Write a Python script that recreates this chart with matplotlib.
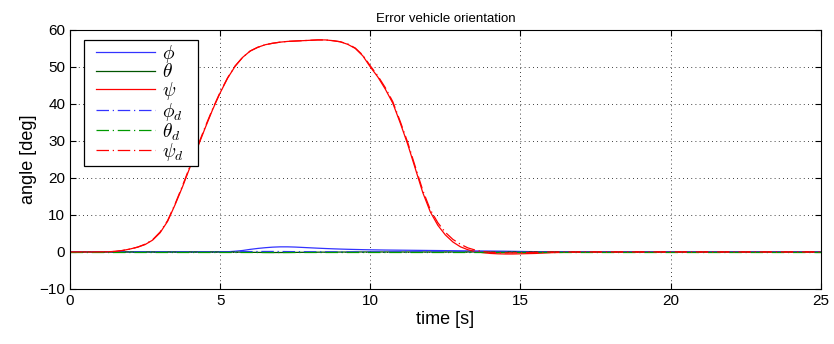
import numpy as np
import matplotlib
matplotlib.use("Agg")
import matplotlib.pyplot as plt

plt.rcParams['font.family'] = ['Liberation Sans', 'DejaVu Sans']
plt.rcParams['mathtext.fontset'] = 'cm'

# tiempo [s]: cada 0.25 s hasta 17 s, luego cada segundo
t = list(np.arange(0, 17, 0.25)) + [17, 18, 19, 20, 21, 22, 23, 24, 25]

psi = [0, 0, 0, 0,
       0.02, 0.05, 0.15, 0.4,
       0.8, 1.3, 2.0, 3.2,
       5.2, 8.3, 12.8, 17.7,
       23.0, 28.3, 33.5, 38.5,
       43.0, 47.0, 50.2, 52.6,
       54.3, 55.3, 56.0, 56.4,
       56.7, 56.9, 57.0, 57.1,
       57.2, 57.3, 57.3, 57.1,
       56.8, 56.1, 55.0, 53.0,
       50.0, 47.3, 44.0, 40.2,
       34.8, 29.0, 22.5, 16.0,
       10.8, 7.2, 4.6, 2.7,
       1.4, 0.6, 0.1, -0.2,
       -0.4, -0.5, -0.55, -0.55,
       -0.5, -0.45, -0.4, -0.3,
       -0.2, -0.15, -0.1, -0.05,
       0, 0, 0, 0, 0, 0, 0, 0, 0]

psi_d = [0, 0, 0, 0,
         0.02, 0.05, 0.15, 0.4,
         0.8, 1.3, 2.1, 3.3,
         5.4, 8.5, 13.0, 18.0,
         23.3, 28.6, 33.8, 38.7,
         43.2, 47.1, 50.3, 52.6,
         54.3, 55.3, 56.0, 56.4,
         56.7, 56.9, 57.0, 57.1,
         57.2, 57.3, 57.3, 57.1,
         56.8, 56.2, 55.1, 53.2,
         50.3, 47.6, 44.4, 40.6,
         35.2, 29.5, 23.0, 16.6,
         11.4, 7.9, 5.3, 3.4,
         2.1, 1.1, 0.5, 0.1,
         -0.1, -0.2, -0.25, -0.25,
         -0.2, -0.15, -0.1, -0.05,
         0, 0, 0, 0,
         0, 0, 0, 0, 0, 0, 0, 0, 0]

phi = [0, 0, 0, 0,
       0, 0, 0, 0,
       0, 0, 0, 0,
       0, 0, 0, 0,
       0, 0, 0, 0,
       0.01, 0.05, 0.2, 0.4,
       0.7, 0.95, 1.15, 1.3,
       1.38, 1.38, 1.32, 1.22,
       1.12, 1.02, 0.93, 0.85,
       0.78, 0.72, 0.67, 0.62,
       0.58, 0.55, 0.52, 0.5,
       0.48, 0.46, 0.44, 0.42,
       0.4, 0.38, 0.36, 0.34,
       0.32, 0.3, 0.28, 0.26,
       0.24, 0.22, 0.2, 0.17,
       0.14, 0.11, 0.08, 0.06,
       0.04, 0.03, 0.02, 0.01,
       0, 0, 0, 0, 0, 0, 0, 0, 0]

theta = [0, 0, 0, 0,
         0, 0, 0, 0,
         0, 0, 0, 0,
         0, 0, 0, 0,
         0, 0, 0, 0,
         0, 0, -0.03, -0.06,
         -0.1, -0.12, -0.14, -0.15,
         -0.15, -0.14, -0.12, -0.1,
         -0.08, -0.06, -0.05, -0.04,
         -0.03, -0.02, -0.01, 0,
         0, 0, 0, 0,
         0, 0, 0, 0,
         0, 0, 0, 0,
         0, 0, 0, 0,
         0, 0, 0, 0,
         0, 0, 0, 0,
         0, 0, 0, 0,
         0, 0, 0, 0, 0, 0, 0, 0, 0]

phi_d = [0, 0, 0, 0,
         0, 0, 0, 0,
         0, 0, 0, 0,
         0, 0, 0, 0,
         0, 0, 0, 0,
         0, 0.02, 0.05, 0.08,
         0.1, 0.12, 0.13, 0.13,
         0.12, 0.1, 0.08, 0.06,
         0.05, 0.04, 0.03, 0.02,
         0.01, 0, 0, 0,
         0, 0, 0, 0,
         0, 0, 0, 0,
         0, 0, 0, 0,
         0, 0, 0, 0,
         0, 0, 0, 0,
         0, 0, 0, 0,
         0, 0, 0, 0,
         0, 0, 0, 0, 0, 0, 0, 0, 0]

theta_d = [0] * len(t)

dashdot = (0, (10, 3, 1, 3))

fig = plt.figure(figsize=(8.34, 3.44), dpi=100)
ax = fig.add_axes([0.084, 0.160, 0.900, 0.753])

ax.plot(t, phi, color='#3333ff', lw=0.9, label=r'$\phi$')
ax.plot(t, theta, color='#005500', lw=0.9, label=r'$\theta$')
ax.plot(t, psi, color='#ff0000', lw=0.9, label=r'$\psi$')
ax.plot(t, phi_d, color='#3333ff', lw=0.9, ls=dashdot, label=r'$\phi_d$')
ax.plot(t, theta_d, color='#009900', lw=0.9, ls=dashdot, label=r'$\theta_d$')
ax.plot(t, psi_d, color='#ff0000', lw=0.9, ls=dashdot, label=r'$\psi_d$')

ax.set_xlim(0, 25)
ax.set_ylim(-10, 60)
ax.set_xticks([0, 5, 10, 15, 20, 25])
ax.set_yticks([-10, 0, 10, 20, 30, 40, 50, 60])
ax.set_yticklabels(['\u221210', '0', '10', '20', '30', '40', '50', '60'])
ax.grid(True, color='black', ls=(0, (1, 4)), lw=0.6)
ax.tick_params(direction='in', top=True, right=True, labelsize=11, length=4)
for s in ax.spines.values():
    s.set_linewidth(0.8)

ax.set_xlabel('time [s]', fontsize=13, labelpad=2)
ax.set_ylabel('angle [deg]', fontsize=13, labelpad=2)
ax.set_title('Error vehicle orientation', fontsize=9.5, pad=6)

handles, labels = ax.get_legend_handles_labels()
labels = [l + '   ' for l in labels]
leg = ax.legend(handles, labels, loc='upper left', bbox_to_anchor=(0.018, 0.962),
                borderaxespad=0, fontsize=14, fancybox=False, framealpha=1,
                edgecolor='black', handlelength=3.5, labelspacing=-0.07,
                borderpad=0.15, handletextpad=0.36)
leg.get_frame().set_linewidth(0.9)
# dejar margen a la izquierda de las lineas de la leyenda
for ln in leg.get_lines():
    xd = np.asarray(ln.get_xdata(), dtype=float)
    yd = np.asarray(ln.get_ydata(), dtype=float)
    ln.set_data([xd[0] + 6.5, xd[-1]], [yd[0], yd[-1]])

fig.savefig('out.png', dpi=100)
